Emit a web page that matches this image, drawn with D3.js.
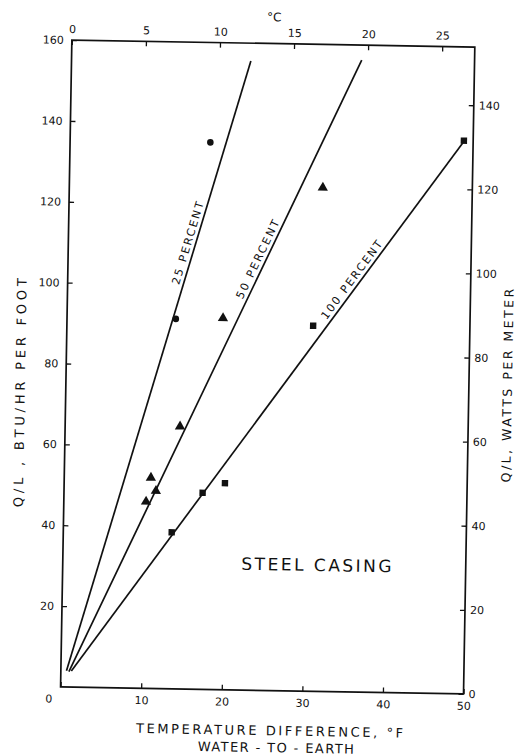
<!DOCTYPE html>
<html>
<head>
<meta charset="utf-8">
<script src="https://cdn.jsdelivr.net/npm/d3@7"></script>
<style>
  body { margin: 0; background: #fff; }
  text { font-family: "DejaVu Sans", sans-serif; fill: #111; }
</style>
</head>
<body>
<script>
// values
const fTicks = [0, 10, 20, 30, 40, 50];          // deg F, bottom
const cTicks = [0, 5, 10, 15, 20, 25];           // deg C, top
const btuTicks = [20, 40, 60, 80, 100, 120, 140, 160];
const wattTicks = [0, 20, 40, 60, 80, 100, 120, 140];

const lineNames = ["25 PERCENT", "50 PERCENT", "100 PERCENT"];
const lineStart = [[0.7, 4.0], [1.0, 3.8], [1.3, 4.0]];
const lineEnd = [[22.25, 155.6], [36.0, 156.3], [48.8, 136.5]];
const labelAt = [110, 106, 101]; // BTU level where each label sits

const circles = [[13.5, 91.5], [17.4, 135.3]];
const triangles = [[10.2, 46.2], [10.75, 52.1], [11.4, 48.9], [14.25, 64.9], [19.35, 91.9], [31.45, 124.6]];
const squares = [[13.45, 38.7], [17.2, 48.6], [19.95, 51.1], [30.55, 90.4], [48.85, 136.8]];

const W = 523, H = 756;
const plotLeft = 66, plotTop = 43.4, pw = 403, ph = 647;
const ink = "#111";

const svg = d3.select("body").append("svg")
    .attr("width", W)
    .attr("height", H);

// the scan sits about one degree off square
const g = svg.append("g")
    .attr("transform", `rotate(1, ${W / 2}, ${H / 2})`);

const x = d3.scaleLinear().domain([0, 50]).range([plotLeft, plotLeft + pw]);
const xc = d3.scaleLinear().domain([0, 27.2]).range([plotLeft, plotLeft + pw]);
const y = d3.scaleLinear().domain([0, 160]).range([plotTop + ph, plotTop]);
const yw = d3.scaleLinear().domain([0, 160 * 0.9615]).range([plotTop + ph, plotTop]);

function styleAxis(sel, size) {
    sel.select(".domain").remove();
    sel.selectAll(".tick line").attr("stroke", ink).attr("stroke-width", 1.3);
    sel.selectAll(".tick text")
        .attr("font-family", "DejaVu Sans")
        .attr("font-size", size)
        .attr("fill", ink);
}

// bottom axis, deg F
const xAxis = g.append("g")
    .attr("transform", `translate(0,${plotTop + ph})`)
    .call(d3.axisBottom(x).tickValues(fTicks).tickSize(-5).tickPadding(8))
    .call(styleAxis, 11);
xAxis.selectAll(".tick text").filter(d => d === 0).attr("dx", -12);

// top axis, deg C
g.append("g")
    .attr("transform", `translate(0,${plotTop})`)
    .call(d3.axisTop(xc).tickValues(cTicks).tickSize(-5).tickPadding(7))
    .call(styleAxis, 11);

// left axis, BTU/hr per foot
g.append("g")
    .attr("transform", `translate(${plotLeft},0)`)
    .call(d3.axisLeft(y).tickValues(btuTicks).tickSize(-5).tickPadding(8))
    .call(styleAxis, 11);

// right axis, watts per meter
g.append("g")
    .attr("transform", `translate(${plotLeft + pw},0)`)
    .call(d3.axisRight(yw).tickValues(wattTicks).tickSize(-5).tickPadding(5))
    .call(styleAxis, 11);

// frame
g.append("rect")
    .attr("x", plotLeft)
    .attr("y", plotTop)
    .attr("width", pw)
    .attr("height", ph)
    .attr("fill", "none")
    .attr("stroke", ink)
    .attr("stroke-width", 1.7);

// fitted lines
g.selectAll("line.fit")
    .data(lineNames)
    .enter().append("line")
    .attr("class", "fit")
    .attr("x1", (d, i) => x(lineStart[i][0]))
    .attr("y1", (d, i) => y(lineStart[i][1]))
    .attr("x2", (d, i) => x(lineEnd[i][0]))
    .attr("y2", (d, i) => y(lineEnd[i][1]))
    .attr("stroke", ink)
    .attr("stroke-width", 1.7);

// labels written along each line
g.selectAll("text.fitlabel")
    .data(lineNames)
    .enter().append("text")
    .attr("class", "fitlabel")
    .attr("transform", (d, i) => {
        const s = lineStart[i], e = lineEnd[i];
        const t = (labelAt[i] - s[1]) / (e[1] - s[1]);
        const fx = s[0] + t * (e[0] - s[0]);
        const ang = Math.atan2(y(e[1]) - y(s[1]), x(e[0]) - x(s[0])) * 180 / Math.PI;
        return `translate(${x(fx)},${y(labelAt[i])}) rotate(${ang})`;
    })
    .attr("dy", -4)
    .attr("text-anchor", "middle")
    .attr("font-size", 11)
    .attr("letter-spacing", 2)
    .text(d => d);

// data points
g.selectAll("circle.pt")
    .data(circles)
    .enter().append("circle")
    .attr("class", "pt")
    .attr("cx", d => x(d[0]))
    .attr("cy", d => y(d[1]))
    .attr("r", 3.3)
    .attr("fill", ink);

g.selectAll("path.tri")
    .data(triangles)
    .enter().append("path")
    .attr("class", "tri")
    .attr("d", d3.symbol(d3.symbolTriangle).size(46))
    .attr("transform", d => `translate(${x(d[0])},${y(d[1])})`)
    .attr("fill", ink);

g.selectAll("rect.sq")
    .data(squares)
    .enter().append("rect")
    .attr("class", "sq")
    .attr("x", d => x(d[0]) - 3.2)
    .attr("y", d => y(d[1]) - 3.2)
    .attr("width", 6.4)
    .attr("height", 6.4)
    .attr("fill", ink);

// texts
g.append("text")
    .attr("x", 321)
    .attr("y", 570)
    .attr("text-anchor", "middle")
    .attr("font-size", 17)
    .attr("letter-spacing", 2.5)
    .text("STEEL CASING");

g.append("text")
    .attr("x", 268)
    .attr("y", 21)
    .attr("text-anchor", "middle")
    .attr("font-size", 12)
    .text("°C");

g.append("text")
    .attr("x", 277)
    .attr("y", 735)
    .attr("text-anchor", "middle")
    .attr("font-size", 13)
    .attr("letter-spacing", 2.6)
    .text("TEMPERATURE DIFFERENCE, °F");

g.append("text")
    .attr("x", 283)
    .attr("y", 752)
    .attr("text-anchor", "middle")
    .attr("font-size", 13)
    .attr("letter-spacing", 1.4)
    .text("WATER - TO - EARTH");

g.append("text")
    .attr("transform", "translate(25,395) rotate(-90)")
    .attr("text-anchor", "middle")
    .attr("font-size", 13)
    .attr("letter-spacing", 3.8)
    .text("Q/L , BTU/HR PER FOOT");

g.append("text")
    .attr("transform", "translate(512,380) rotate(-90)")
    .attr("text-anchor", "middle")
    .attr("font-size", 12.5)
    .attr("letter-spacing", 2.5)
    .text("Q/L, WATTS PER METER");
</script>
</body>
</html>
